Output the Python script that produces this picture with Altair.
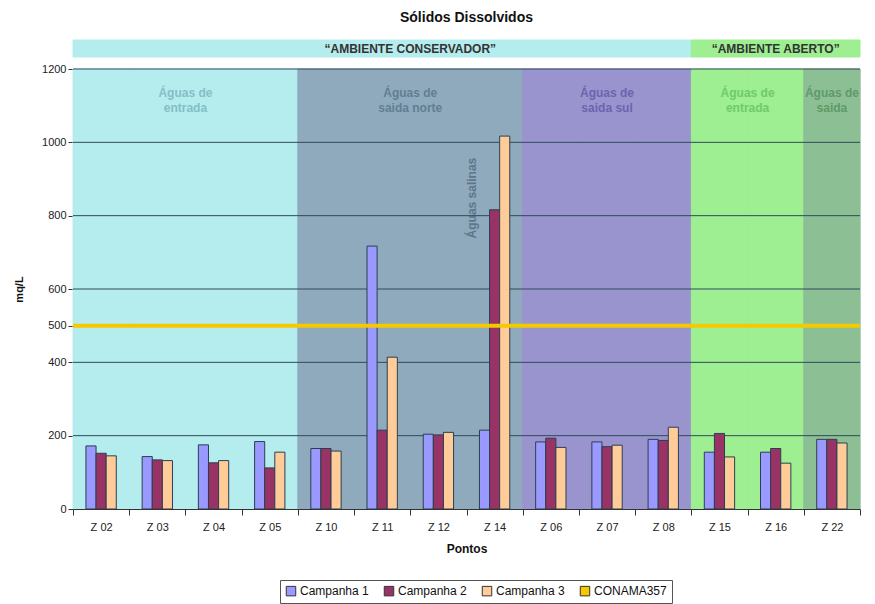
import altair as alt
import pandas as pd

categories = ["Z 02", "Z 03", "Z 04", "Z 05", "Z 10", "Z 11", "Z 12", "Z 14",
              "Z 06", "Z 07", "Z 08", "Z 15", "Z 16", "Z 22"]
campanha1 = [172, 143, 175, 184, 165, 717, 204, 215, 183, 183, 190, 155, 155, 190]
campanha2 = [152, 134, 126, 112, 165, 215, 202, 816, 193, 170, 187, 206, 165, 190]
campanha3 = [145, 132, 132, 155, 158, 414, 209, 1017, 168, 174, 223, 142, 125, 180]
conama_limit = 500
series_names = ["Campanha 1", "Campanha 2", "Campanha 3", "CONAMA357"]
series_colors = ["#9999FF", "#993366", "#FFCC99", "#F5C900"]

region_of_cat = ["ent_c"] * 4 + ["norte"] * 4 + ["sul"] * 3 + ["ent_a"] * 2 + ["saida_a"]
region_fill = {"ent_c": "#B5ECEE", "norte": "#8FAABC", "sul": "#9A94CE",
               "ent_a": "#9EEE92", "saida_a": "#8DBF95"}
header_of_cat = ["cons"] * 11 + ["aberto"] * 3
header_fill = {"cons": "#B5ECEE", "aberto": "#9EEE92"}
grid_values = [200, 400, 600, 800, 1000, 1200]

FONT = "Liberation Sans"
NARROW = "Liberation Sans Narrow, Liberation Sans"
W, H = 787, 440

rows = []
for i, c in enumerate(categories):
    rows.append({"cat": c, "serie": "Campanha 1", "v": campanha1[i]})
    rows.append({"cat": c, "serie": "Campanha 2", "v": campanha2[i]})
    rows.append({"cat": c, "serie": "Campanha 3", "v": campanha3[i]})
bars_df = pd.DataFrame(rows)
bg_df = pd.DataFrame({"cat": categories,
                      "fill": [region_fill[r] for r in region_of_cat],
                      "hfill": [header_fill[h] for h in header_of_cat]})
grid_df = pd.DataFrame({"g": grid_values})

xs = alt.Scale(domain=categories, paddingInner=0, paddingOuter=0)
ys = alt.Scale(domain=[0, 1200], nice=False)

xenc = alt.X("cat:N", scale=xs, sort=categories,
             axis=alt.Axis(title="Pontos", labelAngle=0, tickBand="extent",
                           labelFont=FONT, labelFontSize=11, labelColor="#222",
                           titleFont=FONT, titleFontSize=12, titleFontWeight="bold",
                           titleColor="#111", titlePadding=11, domainColor="#333",
                           tickColor="#333", tickSize=6, labelPadding=6, grid=False))

bg = alt.Chart(bg_df).mark_rect(strokeWidth=1).encode(
    x=xenc,
    y=alt.Y("top:Q", scale=ys), y2="bottom:Q",
    fill=alt.Fill("fill:N", scale=None),
    stroke=alt.Stroke("fill:N", scale=None),
).transform_calculate(top="1200", bottom="0")

header = alt.Chart(bg_df).mark_rect(strokeWidth=1).encode(
    x=alt.X("cat:N", scale=xs, sort=categories),
    y=alt.value(-29), y2=alt.value(-12),
    fill=alt.Fill("hfill:N", scale=None),
    stroke=alt.Stroke("hfill:N", scale=None),
)

grid = alt.Chart(grid_df).mark_rule(color="#2E4A5A", strokeWidth=1).encode(
    y=alt.Y("g:Q", scale=ys,
            axis=alt.Axis(title="mq/L", values=[0, 200, 400, 500, 600, 800, 1000, 1200],
                          format="d",
                          labelFont=FONT, labelFontSize=11, labelColor="#222",
                          titleFont=FONT, titleFontSize=11, titleFontWeight="bold",
                          titleColor="#111", titlePadding=17, domainColor="#333",
                          tickColor="#333", tickSize=5, grid=False)),
)

offset_domain = ["pad_a", "Campanha 1", "Campanha 2", "Campanha 3", "pad_b"]
bars = alt.Chart(bars_df).mark_bar(stroke="#2A3F4F", strokeWidth=1).encode(
    x=alt.X("cat:N", scale=xs, sort=categories),
    xOffset=alt.XOffset("serie:N",
                        scale=alt.Scale(domain=offset_domain, paddingInner=0, paddingOuter=0.28)),
    y=alt.Y("v:Q", scale=ys),
    fill=alt.Fill("serie:N", scale=alt.Scale(domain=series_names, range=series_colors),
                  legend=alt.Legend(title=None, orient="none", direction="horizontal",
                                    legendX=207, legendY=511,
                                    symbolType="square", symbolSize=90,
                                    symbolStrokeColor="#333", symbolStrokeWidth=1,
                                    labelFont=FONT, labelFontSize=12, labelColor="#111",
                                    strokeColor="#555", padding=5, columnPadding=13,
                                    labelOffset=3)),
)

limit = alt.Chart(pd.DataFrame({"lim": [conama_limit]})).mark_rule(
    color="#F5C900", strokeWidth=4).encode(y=alt.Y("lim:Q", scale=ys))

lab_edge = pd.DataFrame({
    "cat": ["Z 03", "Z 11", "Z 15"],
    "t": ["Águas de\nentrada", "Águas de\nsaida norte", "Águas de\nentrada"],
    "c": ["#83BFC6", "#5F7F93", "#6FCB68"],
})
lab_mid = pd.DataFrame({
    "cat": ["Z 07", "Z 22"],
    "t": ["Águas de\nsaida sul", "Águas de\nsaida"],
    "c": ["#6A64AE", "#5F9A68"],
})
txt_kw = dict(font=NARROW, fontSize=12, fontWeight="bold", lineBreak="\n",
              baseline="top", align="center", lineHeight=15)
labels1 = alt.Chart(lab_edge).mark_text(**txt_kw).encode(
    x=alt.X("cat:N", scale=xs, sort=categories, bandPosition=1),
    y=alt.value(19), text="t:N", color=alt.Color("c:N", scale=None))
labels2 = alt.Chart(lab_mid).mark_text(**txt_kw).encode(
    x=alt.X("cat:N", scale=xs, sort=categories, bandPosition=0.5),
    y=alt.value(19), text="t:N", color=alt.Color("c:N", scale=None))

hdr1 = alt.Chart(pd.DataFrame({"cat": ["Z 11"], "t": ["“AMBIENTE CONSERVADOR”"]})).mark_text(
    font=NARROW, fontSize=12, fontWeight="bold", color="#333", baseline="middle").encode(
    x=alt.X("cat:N", scale=xs, sort=categories, bandPosition=1),
    y=alt.value(-20), text="t:N")
hdr2 = alt.Chart(pd.DataFrame({"cat": ["Z 16"], "t": ["“AMBIENTE ABERTO”"]})).mark_text(
    font=NARROW, fontSize=12, fontWeight="bold", color="#333", baseline="middle").encode(
    x=alt.X("cat:N", scale=xs, sort=categories, bandPosition=0.5),
    y=alt.value(-20), text="t:N")

salinas = alt.Chart(pd.DataFrame({"cat": ["Z 14"], "yv": [848], "t": ["Águas salinas"]})).mark_text(
    font=FONT, fontSize=12, fontWeight="bold", color="#5E7688", angle=270,
    baseline="middle", align="center").encode(
    x=alt.X("cat:N", scale=xs, sort=categories, bandPosition=0.1),
    y=alt.Y("yv:Q", scale=ys), text="t:N")

chart = alt.layer(bg, header, grid, bars, limit, labels1, labels2, hdr1, hdr2, salinas).properties(
    width=W, height=H,
    padding={"left": 5, "top": 2, "right": 5, "bottom": 0},
    title=alt.TitleParams("Sólidos Dissolvidos", font=FONT, fontSize=14, fontWeight="bold",
                          color="#111", offset=15),
).configure_view(stroke=None).configure(background="white")

chart.save("out.html", embed_options={"renderer": "svg", "actions": False})
